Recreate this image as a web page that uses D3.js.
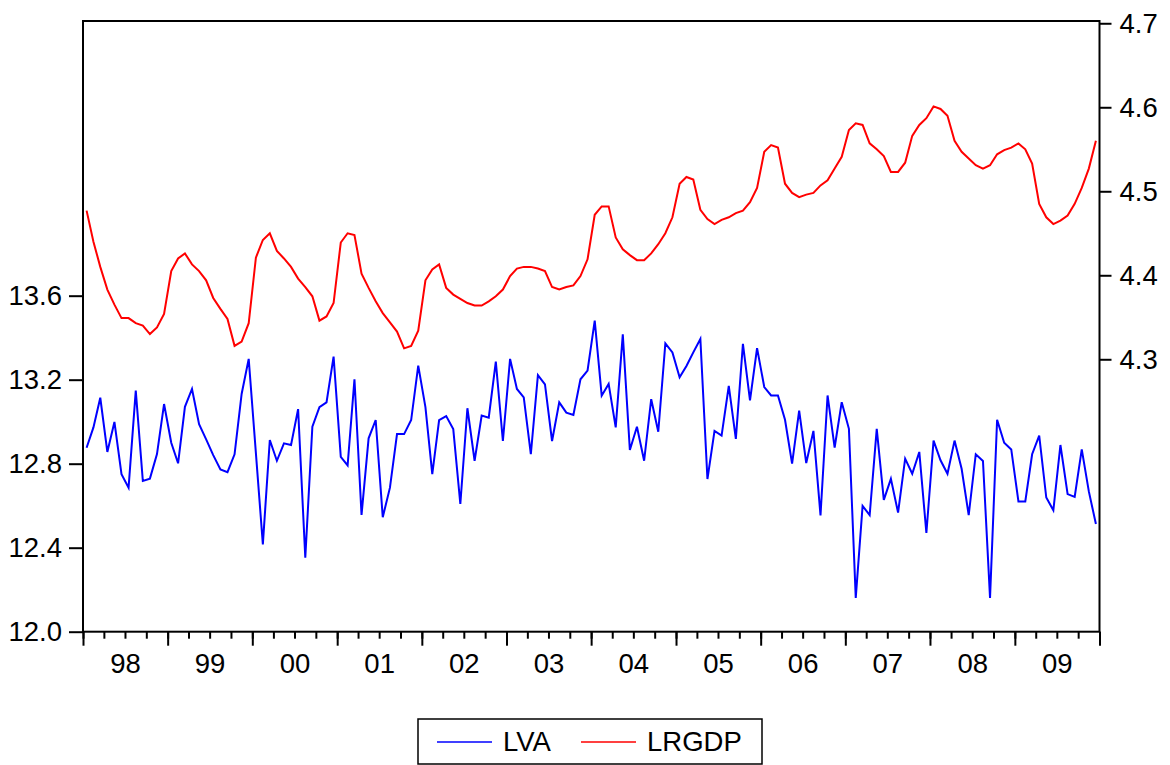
<!DOCTYPE html>
<html>
<head>
<meta charset="utf-8">
<script src="https://cdnjs.cloudflare.com/ajax/libs/d3/7.8.5/d3.min.js"></script>
<style>
  body { margin: 0; background: #fff; }
  svg text { font-family: "Liberation Sans", Arial, Helvetica, sans-serif; fill: #000; }
</style>
</head>
<body>
<div id="chart"></div>
<script>
// monthly observations, 1998M01 - 2009M12
const startYear = 1998, endYear = 2009;
const yearLabels = ["98","99","00","01","02","03","04","05","06","07","08","09"];

const lva = [
  12.876,12.973,13.114,12.856,12.999,12.750,12.686,13.148,12.718,12.729,12.846,13.084,
  12.900,12.802,13.071,13.156,12.988,12.916,12.841,12.773,12.760,12.845,13.132,13.299,
  12.850,12.416,12.913,12.814,12.897,12.889,13.060,12.352,12.976,13.069,13.092,13.310,
  12.833,12.792,13.202,12.556,12.921,13.008,12.545,12.686,12.941,12.941,13.008,13.267,
  13.069,12.750,13.008,13.027,12.965,12.608,13.064,12.814,13.029,13.019,13.286,12.908,
  13.299,13.156,13.116,12.845,13.222,13.178,12.908,13.092,13.043,13.032,13.202,13.243,
  13.481,13.124,13.180,12.973,13.416,12.865,12.976,12.814,13.107,12.952,13.373,13.330,
  13.211,13.265,13.330,13.394,12.727,12.956,12.934,13.170,12.918,13.371,13.101,13.350,
  13.165,13.125,13.125,13.009,12.800,13.053,12.803,12.956,12.554,13.125,12.877,13.093,
  12.966,12.161,12.599,12.555,12.966,12.628,12.728,12.567,12.824,12.752,12.856,12.470,
  12.910,12.816,12.752,12.910,12.776,12.555,12.845,12.813,12.161,13.009,12.900,12.868,
  12.620,12.620,12.845,12.934,12.639,12.578,12.889,12.655,12.642,12.868,12.668,12.513
];

const lrgdp = [
  4.477,4.440,4.410,4.383,4.365,4.349,4.349,4.343,4.340,4.330,4.338,4.354,
  4.405,4.420,4.426,4.413,4.405,4.394,4.373,4.360,4.348,4.316,4.321,4.343,
  4.421,4.442,4.450,4.429,4.420,4.410,4.396,4.386,4.375,4.346,4.351,4.367,
  4.439,4.450,4.448,4.402,4.385,4.369,4.355,4.344,4.333,4.313,4.316,4.334,
  4.394,4.407,4.413,4.385,4.377,4.372,4.367,4.364,4.364,4.369,4.375,4.383,
  4.399,4.408,4.410,4.410,4.408,4.405,4.386,4.383,4.386,4.388,4.399,4.419,
  4.472,4.482,4.482,4.445,4.431,4.424,4.418,4.418,4.426,4.437,4.450,4.469,
  4.509,4.517,4.514,4.478,4.467,4.461,4.466,4.469,4.474,4.477,4.487,4.504,
  4.547,4.555,4.552,4.509,4.498,4.493,4.496,4.498,4.507,4.513,4.527,4.541,
  4.573,4.581,4.579,4.557,4.550,4.542,4.523,4.523,4.534,4.566,4.579,4.587,
  4.601,4.598,4.590,4.560,4.547,4.539,4.531,4.527,4.531,4.544,4.549,4.552,
  4.557,4.550,4.533,4.485,4.469,4.461,4.465,4.471,4.485,4.504,4.527,4.560
];

const leftTicks = [12.0, 12.4, 12.8, 13.2, 13.6];
const rightTicks = [4.3, 4.4, 4.5, 4.6, 4.7];

const width = 1170, height = 765;
const margin = {top: 21, right: 70.5, bottom: 133.3, left: 83};
const x0 = margin.left, x1 = width - margin.right;
const yTop = margin.top, yBot = height - margin.bottom;

const months = d3.utcMonth.range(new Date(Date.UTC(startYear, 0, 1)), new Date(Date.UTC(endYear + 1, 0, 1)));

const x = d3.scaleUtc()
  .domain([new Date(Date.UTC(startYear, 0, 1)), new Date(Date.UTC(endYear + 1, 0, 1))])
  .range([x0, x1]);
// x position at middle of each month
const xm = d => (x(d) + x(d3.utcMonth.offset(d, 1))) / 2;

const yL = d3.scaleLinear().domain([12.0, 14.908]).range([yBot, yTop]);
const yR = d3.scaleLinear().domain([3.9757, 4.7027]).range([yBot, yTop]);

const svg = d3.select("#chart").append("svg")
  .attr("width", width)
  .attr("height", height);

// series
const lineL = d3.line().x((d, i) => xm(months[i])).y(d => yL(d));
const lineR = d3.line().x((d, i) => xm(months[i])).y(d => yR(d));

svg.append("path").datum(lrgdp)
  .attr("d", lineR)
  .attr("fill", "none").attr("stroke", "#ff0000").attr("stroke-width", 2);

svg.append("path").datum(lva)
  .attr("d", lineL)
  .attr("fill", "none").attr("stroke", "#0000ff").attr("stroke-width", 2);

// frame
svg.append("rect")
  .attr("x", x0).attr("y", yTop)
  .attr("width", x1 - x0).attr("height", yBot - yTop)
  .attr("fill", "none").attr("stroke", "#000").attr("stroke-width", 2);

// left axis
svg.append("g").attr("transform", `translate(${x0},0)`)
  .call(d3.axisLeft(yL).tickValues(leftTicks).tickFormat(d3.format(".1f")).tickSize(14).tickPadding(7));
// right axis
svg.append("g").attr("transform", `translate(${x1},0)`)
  .call(d3.axisRight(yR).tickValues(rightTicks).tickFormat(d3.format(".1f")).tickSize(12).tickPadding(8));

// bottom axis: quarterly minor ticks, yearly major ticks, labels mid-year
const quarters = d3.utcMonth.every(3).range(new Date(Date.UTC(startYear, 0, 1)), new Date(Date.UTC(endYear + 1, 0, 2)));
const years = d3.utcYear.range(new Date(Date.UTC(startYear, 0, 1)), new Date(Date.UTC(endYear + 1, 0, 2)));
const midYears = d3.range(startYear, endYear + 1).map(yr => new Date(Date.UTC(yr, 6, 1)));

svg.append("g").attr("transform", `translate(0,${yBot})`)
  .call(d3.axisBottom(x).tickValues(quarters).tickSize(7).tickFormat(""));
svg.append("g").attr("transform", `translate(0,${yBot})`)
  .call(d3.axisBottom(x).tickValues(years).tickSize(14).tickFormat(""));
const gB = svg.append("g").attr("transform", `translate(0,${yBot})`)
  .call(d3.axisBottom(x).tickValues(midYears).tickSize(0).tickPadding(22)
    .tickFormat((d, i) => yearLabels[i]));
gB.selectAll(".tick line").remove();

svg.selectAll(".domain").remove();
svg.selectAll(".tick line").attr("stroke", "#000").attr("stroke-width", 2);
svg.selectAll(".tick text").style("font-size", "27.5px");

// legend
const legend = svg.append("g");
legend.append("rect")
  .attr("x", 418).attr("y", 719).attr("width", 344).attr("height", 45)
  .attr("fill", "#fff").attr("stroke", "#000").attr("stroke-width", 1.5);
const items = [{name: "LVA", color: "#0000ff", x: 437}, {name: "LRGDP", color: "#ff0000", x: 581}];
items.forEach(it => {
  legend.append("line")
    .attr("x1", it.x).attr("x2", it.x + 55).attr("y1", 742).attr("y2", 742)
    .attr("stroke", it.color).attr("stroke-width", 1.6);
  legend.append("text")
    .attr("x", it.x + 66).attr("y", 751)
    .style("font-size", "27.5px")
    .text(it.name);
});
</script>
</body>
</html>
